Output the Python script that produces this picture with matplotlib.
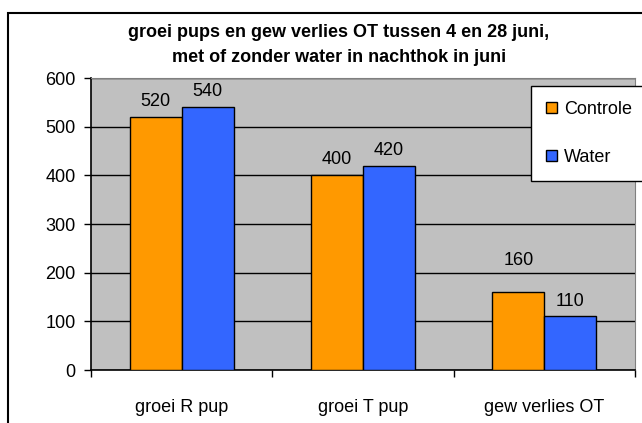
import matplotlib.pyplot as plt
from matplotlib.patches import Rectangle
import numpy as np

plt.rcParams['font.family'] = ['Liberation Sans', 'DejaVu Sans']

# data
categories = ['groei R pup', 'groei T pup', 'gew verlies OT']
controle = [520, 400, 160]
water = [540, 420, 110]
series_names = ['Controle', 'Water']
title = 'groei pups en gew verlies OT tussen 4 en 28 juni,\nmet of zonder water in nachthok in juni'

fs = 13

fig = plt.figure(figsize=(6.42, 4.23), dpi=100)

# outer chart border (cut off on right/bottom like the screenshot)
fig.patches.append(Rectangle((8 / 642, -0.2), 1.2, 1.2 - 13 / 423, transform=fig.transFigure,
                             fill=False, edgecolor='black', linewidth=1.5, zorder=0))

ax = fig.add_axes([91 / 642, 53 / 423, 544 / 642, 292 / 423])
ax.set_facecolor('#C0C0C0')

x = np.arange(len(categories))
w = 0.287
b1 = ax.bar(x - w / 2, controle, w, color='#FF9900', edgecolor='black', linewidth=1, label=series_names[0], zorder=3)
b2 = ax.bar(x + w / 2, water, w, color='#3366FF', edgecolor='black', linewidth=1, label=series_names[1], zorder=3)

# value labels above bars
for bars in (b1, b2):
    for rect in bars:
        h = rect.get_height()
        off = 17 if h == 160 else 5
        ax.annotate(f'{h:.0f}', (rect.get_x() + rect.get_width() / 2, h), xytext=(0, off),
                    textcoords='offset points', ha='center', va='bottom', fontsize=fs)

ax.set_ylim(0, 600)
ax.set_xlim(-0.5, 2.5)
ax.set_yticks(range(0, 601, 100))
ax.yaxis.grid(True, color='black', linewidth=1, zorder=1)
ax.set_axisbelow(True)
ax.tick_params(axis='y', length=5, width=1, pad=6, labelsize=fs)

ax.set_xticks(x)
ax.set_xticklabels(categories)
ax.set_xticks([-0.5, 0.5, 1.5, 2.5], minor=True)
ax.tick_params(axis='x', which='major', length=0, pad=21, labelsize=fs)
ax.tick_params(axis='x', which='minor', length=5, width=1)

for s in ('top', 'right'):
    ax.spines[s].set_color('#808080')
for s in ('left', 'bottom'):
    ax.spines[s].set_color('black')
    ax.spines[s].set_linewidth(1.2)

fig.text(339 / 642, 1 - 45 / 423, title, ha='center', va='center', fontsize=fs,
         fontweight='bold', linespacing=1.55)

leg = fig.legend(loc='upper left', bbox_to_anchor=(531 / 642, 1 - 90 / 423, 0.3, 0.01), mode='expand',
                 fontsize=fs, frameon=True, fancybox=False, edgecolor='black', framealpha=1,
                 handlelength=0.6, handleheight=0.6, handletextpad=0.4, labelspacing=1.7,
                 borderpad=0.85, borderaxespad=0)
leg.get_frame().set_linewidth(1)

fig.savefig('out.png', dpi=100)
